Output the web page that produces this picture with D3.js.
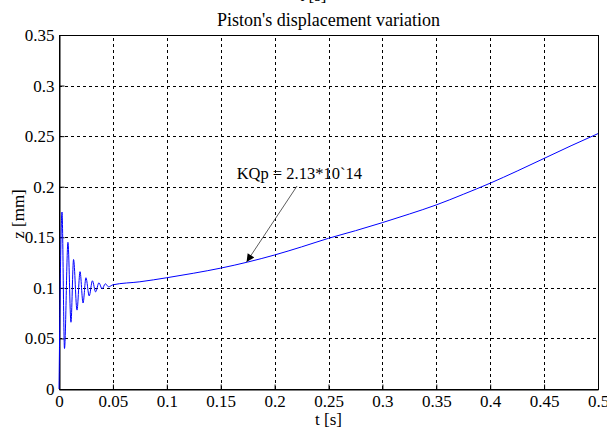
<!DOCTYPE html>
<html>
<head>
<meta charset="utf-8">
<script src="https://cdn.jsdelivr.net/npm/d3@7"></script>
<style>
  body { margin: 0; background: #fff; }
  svg { display: block; }
</style>
</head>
<body>
<div id="chart"></div>
<script>
// time [s] and displacement [mm]
const timeValues = [0, 0.0028, 0.0051, 0.0083, 0.0111, 0.0135, 0.0167, 0.0195, 0.0223, 0.025,
    0.028, 0.031, 0.034, 0.037, 0.040, 0.043, 0.046, 0.05, 0.075, 0.1, 0.125, 0.15, 0.175,
    0.2, 0.225, 0.25, 0.275, 0.3, 0.325, 0.35, 0.375, 0.4, 0.425, 0.45, 0.475, 0.5];
const zValues = [0, 0.175, 0.04, 0.145, 0.066, 0.128, 0.078, 0.116, 0.085, 0.11,
    0.092, 0.107, 0.096, 0.105, 0.099, 0.104, 0.101, 0.103, 0.106, 0.110, 0.1145, 0.1195, 0.1255,
    0.1325, 0.1405, 0.149, 0.1565, 0.1645, 0.173, 0.182, 0.1925, 0.2035, 0.2155, 0.228, 0.2405, 0.2525];

const xTicks = [0, 0.05, 0.1, 0.15, 0.2, 0.25, 0.3, 0.35, 0.4, 0.45, 0.5];
const yTicks = [0, 0.05, 0.1, 0.15, 0.2, 0.25, 0.3, 0.35];

const annotationText = "KQp = 2.13*10`14";
const arrowFrom = [0.2208, 0.2007];
const arrowTo = [0.174, 0.1255];
const labelAt = [0.2229, 0.2076];

const width = 607, height = 430;
const margin = { top: 35, right: 9, bottom: 41, left: 59 };
const serif = '"Liberation Serif", Tinos, "Times New Roman", "DejaVu Serif", serif';

const svg = d3.select("#chart").append("svg")
    .attr("width", width)
    .attr("height", height)
    .attr("font-family", serif);

const x = d3.scaleLinear().domain([0, 0.5]).range([margin.left, width - margin.right]);
const y = d3.scaleLinear().domain([0, 0.35]).range([height - margin.bottom, margin.top]);

// grid
svg.append("g")
    .selectAll("line")
    .data(xTicks.slice(1, -1))
    .join("line")
    .attr("x1", d => Math.round(x(d)) + 0.5)
    .attr("x2", d => Math.round(x(d)) + 0.5)
    .attr("y1", y(0))
    .attr("y2", y(0.35))
    .attr("stroke", "#000")
    .attr("stroke-dasharray", "3,3");

svg.append("g")
    .selectAll("line")
    .data(yTicks.slice(1, -1))
    .join("line")
    .attr("y1", d => Math.round(y(d)) + 0.5)
    .attr("y2", d => Math.round(y(d)) + 0.5)
    .attr("x1", x(0))
    .attr("x2", x(0.5))
    .attr("stroke", "#000")
    .attr("stroke-dasharray", "3,3");

// axes with inward ticks
const xAxis = svg.append("g")
    .attr("transform", `translate(0,${y(0) + 0.5})`)
    .call(d3.axisBottom(x).tickValues(xTicks).tickFormat(d => d).tickSizeInner(-5).tickSizeOuter(0).tickPadding(5));
const yAxis = svg.append("g")
    .attr("transform", `translate(${x(0) + 0.5},0)`)
    .call(d3.axisLeft(y).tickValues(yTicks).tickFormat(d => d).tickSizeInner(-5).tickSizeOuter(0).tickPadding(5));

[xAxis, yAxis].forEach(a => {
    a.attr("font-family", serif).attr("font-size", 17);
    a.selectAll("text").attr("fill", "#000");
    a.selectAll("line, path").attr("stroke", "#000");
});

// frame
svg.append("rect")
    .attr("x", x(0) + 0.5)
    .attr("y", y(0.35) + 0.5)
    .attr("width", x(0.5) - x(0))
    .attr("height", y(0) - y(0.35))
    .attr("fill", "none")
    .attr("stroke", "#000");

// curve
const line = d3.line()
    .x((d, i) => x(timeValues[i]))
    .y(d => y(d))
    .curve(d3.curveMonotoneX);

svg.append("path")
    .datum(zValues)
    .attr("d", line)
    .attr("fill", "none")
    .attr("stroke", "#0000ff")
    .attr("stroke-width", 1);

// annotation arrow
svg.append("defs").append("marker")
    .attr("id", "head")
    .attr("viewBox", "0 0 10 10")
    .attr("refX", 10)
    .attr("refY", 5)
    .attr("markerWidth", 11)
    .attr("markerHeight", 8)
    .attr("markerUnits", "userSpaceOnUse")
    .attr("orient", "auto")
    .append("path")
    .attr("d", "M0,0L10,5L0,10Z")
    .attr("fill", "#000");

svg.append("line")
    .attr("x1", x(arrowFrom[0]))
    .attr("y1", y(arrowFrom[1]))
    .attr("x2", x(arrowTo[0]))
    .attr("y2", y(arrowTo[1]))
    .attr("stroke", "#333")
    .attr("stroke-width", 0.8)
    .attr("marker-end", "url(#head)");

svg.append("text")
    .attr("x", x(labelAt[0]))
    .attr("y", y(labelAt[1]))
    .attr("text-anchor", "middle")
    .attr("font-size", 16.5)
    .text(annotationText);

// titles
svg.append("text")
    .attr("x", (x(0) + x(0.5)) / 2)
    .attr("y", 26)
    .attr("text-anchor", "middle")
    .attr("font-size", 18)
    .text("Piston's displacement variation");

// cut-off label of the figure above
svg.append("text")
    .attr("x", 313)
    .attr("y", 1)
    .attr("text-anchor", "middle")
    .attr("font-size", 17)
    .text("t [s]");

svg.append("text")
    .attr("x", (x(0) + x(0.5)) / 2)
    .attr("y", 425)
    .attr("text-anchor", "middle")
    .attr("font-size", 17)
    .text("t [s]");

svg.append("text")
    .attr("transform", `translate(24,214) rotate(-90)`)
    .attr("text-anchor", "middle")
    .attr("font-size", 17)
    .text("z [mm]");
</script>
</body>
</html>
